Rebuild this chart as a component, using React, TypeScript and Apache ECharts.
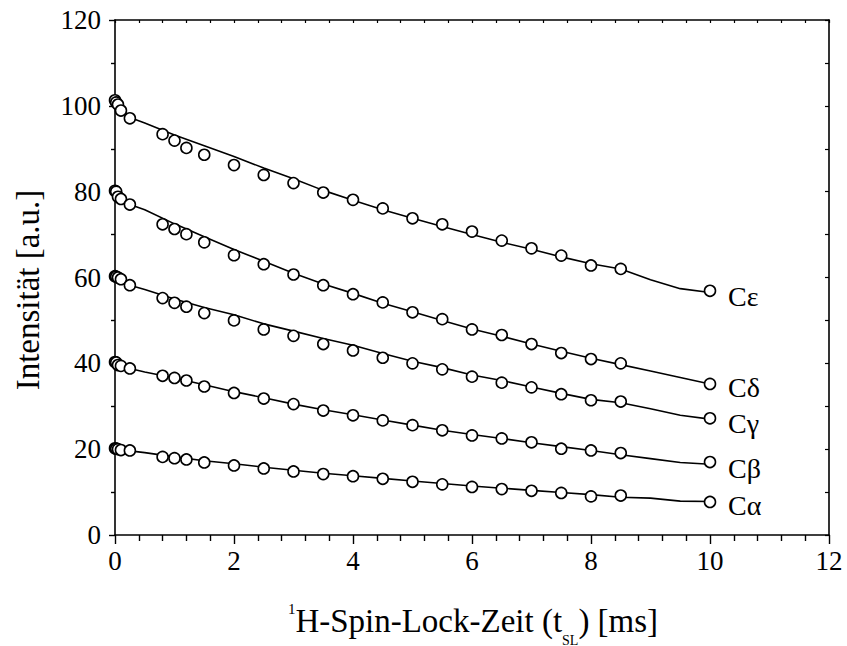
import React, { useEffect, useRef } from "react";
import * as echarts from "echarts";

const X_PTS = [0, 0.02, 0.05, 0.1, 0.25, 0.8, 1, 1.2, 1.5, 2, 2.5, 3, 3.5, 4, 4.5, 5, 5.5, 6, 6.5, 7, 7.5, 8, 8.5, 10];
const X_FIT = [0, 0.25, 0.5, 1, 1.5, 2, 2.5, 3, 3.5, 4, 4.5, 5, 5.5, 6, 6.5, 7, 7.5, 8, 8.5, 9, 9.5, 10];

const SERIES_NAMES = ["Cε", "Cδ", "Cγ", "Cβ", "Cα"];

const PTS_EPS = [101.3, 100.8, 100.3, 98.9, 97.1, 93.4, 91.9, 90.2, 88.6, 86.2, 83.9, 82.0, 79.8, 78.1, 76.1, 73.8, 72.4, 70.7, 68.6, 66.8, 65.1, 62.8, 62.0, 56.9];
const PTS_DELTA = [80.2, 80.0, 78.8, 78.3, 77.0, 72.4, 71.3, 70.1, 68.2, 65.2, 63.1, 60.7, 58.2, 56.1, 54.2, 51.9, 50.3, 47.9, 46.6, 44.5, 42.4, 41.0, 40.0, 35.2];
const PTS_GAMMA = [60.3, 60.2, 60.0, 59.6, 58.2, 55.2, 54.1, 53.2, 51.7, 50.0, 47.9, 46.4, 44.5, 43.0, 41.3, 40.0, 38.6, 36.9, 35.5, 34.4, 32.8, 31.4, 31.1, 27.2];
const PTS_BETA = [40.3, 40.2, 39.6, 39.4, 38.8, 37.1, 36.6, 36.0, 34.6, 33.1, 31.8, 30.5, 29.0, 27.9, 26.7, 25.6, 24.4, 23.2, 22.5, 21.6, 20.1, 19.7, 19.1, 17.0];
const PTS_ALPHA = [20.2, 20.1, 20.0, 19.8, 19.7, 18.2, 17.9, 17.6, 16.9, 16.2, 15.5, 14.8, 14.2, 13.7, 13.1, 12.4, 11.8, 11.2, 10.7, 10.3, 9.8, 9.0, 9.2, 7.7];

const FIT_EPS = [100.5, 97.3, 96, 93.2, 90.7, 88.2, 85.5, 83, 80.3, 78, 75.8, 73.8, 71.9, 70, 68.2, 66.6, 64.8, 63.2, 62, 59.5, 57.4, 56.5];
const FIT_DELTA = [79.5, 77, 75.8, 72.5, 69.5, 66.5, 63.8, 61, 58.5, 56.3, 54, 52, 50, 48, 46.3, 44.5, 42.8, 41.2, 39.7, 38.2, 36.7, 35.2];
const FIT_GAMMA = [59.8, 58.2, 57.2, 55, 53, 51.3, 49.2, 47.5, 45.8, 44.2, 42.3, 40.5, 39, 37.3, 36, 34.5, 33, 31.6, 30.8, 29.4, 27.9, 27];
const FIT_BETA = [39.8, 38.8, 38, 36.6, 35, 33.4, 32, 30.5, 29.2, 28, 26.8, 25.6, 24.4, 23.4, 22.5, 21.5, 20.6, 19.7, 18.7, 17.8, 16.9, 16.5];
const FIT_ALPHA = [20, 19.6, 19.2, 18.2, 17.3, 16.6, 15.8, 15.1, 14.4, 13.8, 13.2, 12.6, 12, 11.4, 10.9, 10.4, 9.9, 9.4, 8.8, 8.6, 7.9, 7.8];

const Y_TITLE = "Intensität [a.u.]";
const X_TITLE = "{sup|1}H-Spin-Lock-Zeit (t{sub|SL}) [ms]";

const FONT = "'Liberation Serif', 'Times New Roman', serif";

export default function App() {
  const ref = useRef<HTMLDivElement>(null);
  useEffect(() => {
    if (!ref.current) return;
    const chart = echarts.init(ref.current, null, { renderer: "svg" });
    const pts = [PTS_EPS, PTS_DELTA, PTS_GAMMA, PTS_BETA, PTS_ALPHA];
    const fits = [FIT_EPS, FIT_DELTA, FIT_GAMMA, FIT_BETA, FIT_ALPHA];
    const series: any[] = [];
    SERIES_NAMES.forEach((name, i) => {
      series.push({
        name,
        type: "line",
        data: X_FIT.map((x, j) => [x, fits[i][j]]),
        showSymbol: false,
        symbol: "none",
        lineStyle: { color: "#000", width: 1.6 },
        z: 2,
        endLabel: {
          show: true,
          formatter: () => name,
          distance: 18,
          offset: [0, 4],
          color: "#000",
          fontFamily: FONT,
          fontSize: 28,
        },
      });
      series.push({
        name: name + " pts",
        type: "scatter",
        data: X_PTS.map((x, j) => [x, pts[i][j]]),
        symbol: "circle",
        symbolSize: 11,
        itemStyle: { color: "#fff", borderColor: "#000", borderWidth: 1.6, opacity: 1 },
        z: 3,
      });
    });
    chart.setOption({
      animation: false,
      backgroundColor: "#fff",
      grid: { left: 115, right: 18, top: 20, bottom: 111, containLabel: false },
      xAxis: [
        {
          type: "value",
          position: "bottom",
          min: 0,
          max: 12,
          interval: 2,
          axisLine: { show: true, lineStyle: { color: "#000", width: 1.6 } },
          axisTick: { show: true, inside: false, length: 9, lineStyle: { color: "#000", width: 1.4 } },
          minorTick: { show: true, splitNumber: 5, length: 6, lineStyle: { color: "#000", width: 1.4 } },
          splitLine: { show: false },
          axisLabel: { color: "#000", fontFamily: FONT, fontSize: 27, margin: 12 },
        },
        {
          type: "value",
          position: "top",
          min: 0,
          max: 12,
          interval: 0.4,
          axisLine: { show: true, onZero: false, lineStyle: { color: "#000", width: 1.6 } },
          axisTick: { show: true, inside: true, length: 3, lineStyle: { color: "#000", width: 1.2 } },
          splitLine: { show: false },
          axisLabel: { show: false },
        },
      ],
      yAxis: [
        {
          type: "value",
          position: "left",
          min: 0,
          max: 120,
          interval: 20,
          axisLine: { show: true, lineStyle: { color: "#000", width: 1.6 } },
          axisTick: { show: true, inside: false, length: 6, lineStyle: { color: "#000", width: 1.4 } },
          minorTick: { show: true, splitNumber: 2, length: 4, lineStyle: { color: "#000", width: 1.4 } },
          splitLine: { show: false },
          axisLabel: { color: "#000", fontFamily: FONT, fontSize: 27, margin: 14 },
        },
        {
          type: "value",
          position: "right",
          min: 0,
          max: 120,
          interval: 10,
          axisLine: { show: true, onZero: false, lineStyle: { color: "#000", width: 1.6 } },
          axisTick: { show: true, inside: true, length: 4, lineStyle: { color: "#000", width: 1.2 } },
          splitLine: { show: false },
          axisLabel: { show: false },
        },
      ],
      graphic: [
        {
          type: "text",
          x: 28,
          y: 290,
          rotation: Math.PI / 2,
          style: {
            text: Y_TITLE,
            fill: "#000",
            fontFamily: FONT,
            fontSize: 33,
            align: "center",
            verticalAlign: "middle",
          },
        },
        {
          type: "text",
          x: 473,
          y: 621,
          style: {
            text: X_TITLE,
            fill: "#000",
            fontFamily: FONT,
            fontSize: 33,
            lineHeight: 52,
            align: "center",
            verticalAlign: "middle",
            rich: {
              sup: { fontFamily: FONT, fontSize: 15, verticalAlign: "top", padding: [6, 0, 0, 0], fill: "#000" },
              sub: { fontFamily: FONT, fontSize: 14, lineHeight: 14, verticalAlign: "bottom", fill: "#000" },
            },
          },
        },
      ],
      series,
    });
    return () => chart.dispose();
  }, []);
  return <div ref={ref} style={{ position: "absolute", left: 0, top: 0, width: 847, height: 646 }} />;
}
